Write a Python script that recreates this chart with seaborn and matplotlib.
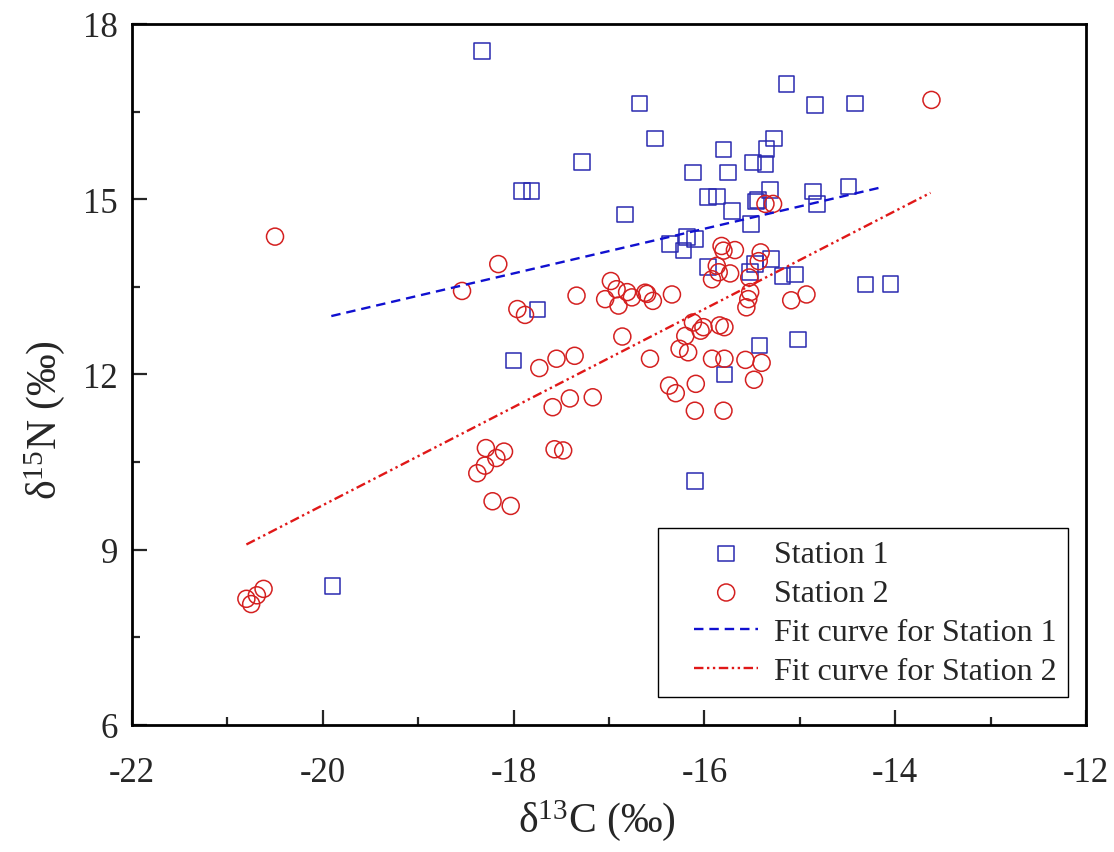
import numpy as np
import pandas as pd
import matplotlib
matplotlib.use("Agg")
import matplotlib.pyplot as plt
import seaborn as sns
from matplotlib.lines import Line2D
from matplotlib.collections import PathCollection
from matplotlib.legend_handler import HandlerLine2D, HandlerPathCollection

# ── Data ────────────────────────────────────────────────────
st1_c = [-18.33, -17.28, -17.91, -17.81, -17.75, -18.00, -19.90, -16.10, -15.79,
         -15.14, -16.68, -14.84, -14.42, -16.52, -15.80, -15.27, -15.35, -15.49,
         -15.36, -16.12, -15.75, -16.83, -15.31, -14.86, -14.49, -15.96, -15.87,
         -15.44, -15.46, -14.82, -15.71, -15.51, -16.36, -16.18, -16.10, -16.22,
         -15.96, -15.47, -15.30, -15.52, -15.18, -15.05, -14.31, -14.05, -15.02,
         -15.42]
st1_n = [17.54, 15.64, 15.14, 15.14, 13.11, 12.24, 8.38, 10.18, 12.00,
         16.97, 16.64, 16.61, 16.64, 16.04, 15.85, 16.04, 15.86, 15.63,
         15.60, 15.46, 15.46, 14.74, 15.16, 15.13, 15.22, 15.04, 15.05,
         14.99, 14.96, 14.92, 14.80, 14.58, 14.23, 14.35, 14.32, 14.12,
         13.84, 13.89, 13.98, 13.75, 13.69, 13.71, 13.54, 13.55, 12.60,
         12.50]

st2_c = [-20.50, -18.16, -18.54, -17.96, -17.88, -17.34, -17.73, -17.55, -17.36,
         -20.80, -20.75, -20.62, -20.69, -18.29, -18.10, -18.18, -18.30, -18.38,
         -18.22, -18.03, -17.59, -17.41, -17.17, -17.57, -17.48, -16.37, -16.30,
         -16.09, -16.10, -15.80, -15.48, -13.62, -15.36, -15.28, -15.82, -15.80,
         -15.68, -15.41, -15.43, -15.87, -15.85, -15.73, -15.92, -15.53, -15.52,
         -15.54, -15.56, -15.09, -14.93, -16.98, -16.92, -16.81, -17.04, -16.90,
         -16.76, -16.60, -16.54, -16.34, -16.86, -16.57, -16.12, -16.01, -16.04,
         -16.20, -16.26, -16.17, -15.92, -15.84, -15.79, -15.79, -15.57, -15.40,
         -16.62]
st2_n = [14.36, 13.89, 13.43, 13.12, 13.02, 13.35, 12.11, 12.27, 12.32,
         8.16, 8.07, 8.33, 8.22, 10.74, 10.68, 10.57, 10.44, 10.31,
         9.83, 9.75, 11.44, 11.59, 11.61, 10.72, 10.70, 11.81, 11.68,
         11.84, 11.38, 11.38, 11.91, 16.70, 14.92, 14.92, 14.20, 14.12,
         14.13, 14.09, 13.94, 13.86, 13.75, 13.73, 13.63, 13.66, 13.41,
         13.29, 13.15, 13.27, 13.37, 13.60, 13.46, 13.41, 13.29, 13.18,
         13.32, 13.38, 13.26, 13.37, 12.65, 12.27, 12.89, 12.81, 12.75,
         12.66, 12.44, 12.38, 12.27, 12.84, 12.81, 12.27, 12.25, 12.20,
         13.40]

# fit line end points
fit1_c = [-19.91, -14.13]
fit1_n = [13.00, 15.21]
fit2_c = [-20.80, -13.63]
fit2_n = [9.09, 15.11]

df1 = pd.DataFrame({"c": st1_c, "n": st1_n})
df2 = pd.DataFrame({"c": st2_c, "n": st2_n})

# ── Style ───────────────────────────────────────────────────
sns.set_style("ticks")
plt.rcParams["font.family"] = ["Liberation Serif", "DejaVu Serif"]
plt.rcParams["mathtext.default"] = "regular"
plt.rcParams["axes.unicode_minus"] = False

blue = "#2a2ab0"
red = "#d42020"

fig = plt.figure(figsize=(11.14, 8.53), dpi=100)
ax = fig.add_axes([0.1184, 0.1489, 0.8565, 0.8218])

sns.scatterplot(data=df1, x="c", y="n", marker="s", s=125, facecolor="none",
                edgecolor=blue, linewidth=1.1, label="Station 1", ax=ax)
sns.scatterplot(data=df2, x="c", y="n", marker="o", s=150, facecolor="none",
                edgecolor=red, linewidth=1.1, label="Station 2", ax=ax)
sns.lineplot(x=fit1_c, y=fit1_n, color="#1010d0", linewidth=1.7,
             linestyle=(0, (4, 2.5)), label="Fit curve for Station 1", ax=ax)
sns.lineplot(x=fit2_c, y=fit2_n, color="#e01818", linewidth=1.7,
             linestyle=(0, (4, 1.5, 1, 1.5, 1, 1.5)),
             label="Fit curve for Station 2", ax=ax)

ax.set_xlim(-22, -12)
ax.set_ylim(6, 18)
ax.set_xticks([-22, -20, -18, -16, -14, -12])
ax.set_xticks(np.arange(-21, -12, 2), minor=True)
ax.set_yticks([6, 9, 12, 15, 18])
ax.set_yticks([7.5, 10.5, 13.5, 16.5], minor=True)
ax.tick_params(which="both", direction="in", width=1.6, labelsize=25,
               top=False, right=False)
ax.tick_params(which="major", length=11)
ax.tick_params(which="minor", length=6)
ax.tick_params(axis="x", which="major", pad=22)
ax.tick_params(axis="y", which="major", pad=10)
for sp in ax.spines.values():
    sp.set_linewidth(2.0)
    sp.set_color("black")

ax.set_xlabel("δ$^{13}$C (‰)", fontsize=30)
ax.set_ylabel("δ$^{15}$N (‰)", fontsize=30)
ax.xaxis.set_label_coords(0.487, -0.103)
ax.yaxis.set_label_coords(-0.068, 0.437)

leg = ax.legend(loc="lower right", bbox_to_anchor=(0.981, 0.040), fontsize=23,
                frameon=True, fancybox=False, edgecolor="black", framealpha=1,
                handlelength=2.8, labelspacing=0.3, borderpad=0.35,
                borderaxespad=0, handletextpad=0.5,
                handler_map={Line2D: HandlerLine2D(xpad=0.8),
                             PathCollection: HandlerPathCollection(xpad=0.8)})
leg.get_frame().set_linewidth(1.0)
for h, sz in zip(leg.legend_handles[:2], [125, 150]):
    h.set_sizes([sz])

plt.savefig("out.png", dpi=100)
